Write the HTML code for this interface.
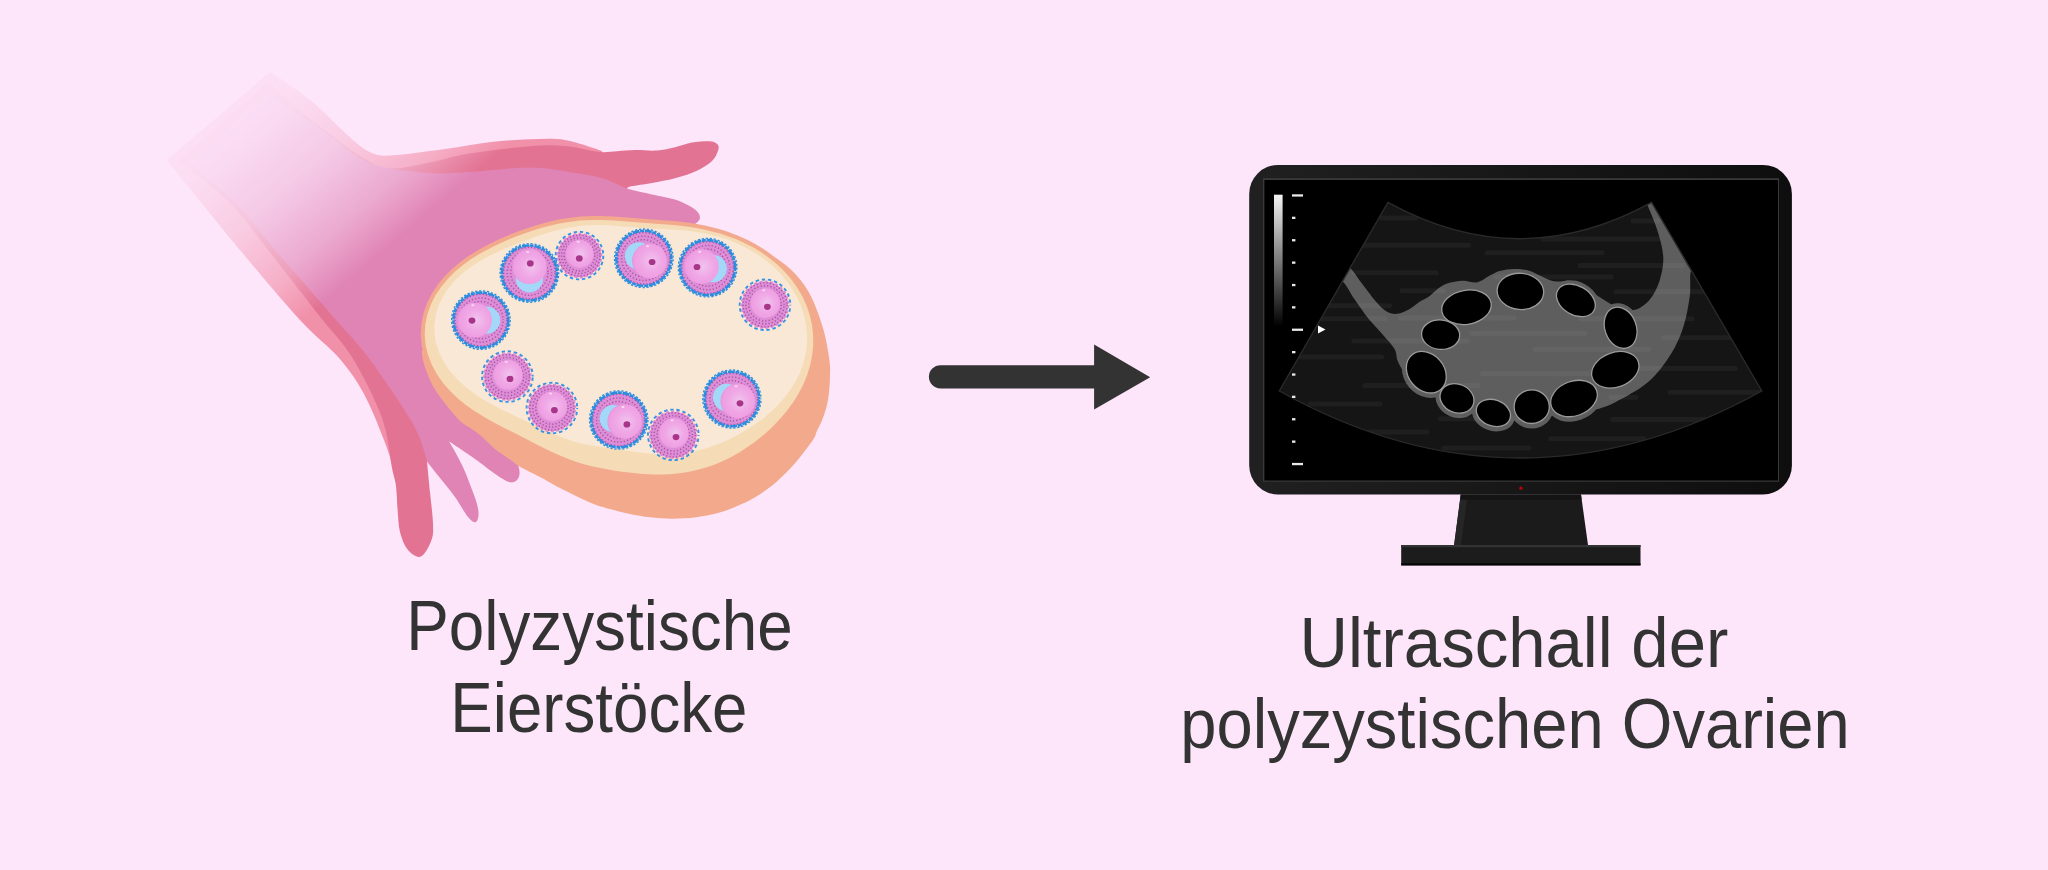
<!DOCTYPE html>
<html><head><meta charset="utf-8">
<style>
html,body{margin:0;padding:0;background:#FDE5FA;}
body{width:2048px;height:870px;overflow:hidden;}
svg{display:block;}
text{font-family:"Liberation Sans",sans-serif;fill:#333333;}
</style></head>
<body>
<svg width="2048" height="870" viewBox="0 0 2048 870">
<defs>
  <linearGradient id="fade" gradientUnits="userSpaceOnUse" x1="146" y1="171" x2="286" y2="334.4">
    <stop offset="0" stop-color="#fff" stop-opacity="0.05"/>
    <stop offset="0.186" stop-color="#fff" stop-opacity="0.1"/>
    <stop offset="0.488" stop-color="#fff" stop-opacity="0.28"/>
    <stop offset="0.79" stop-color="#fff" stop-opacity="0.62"/>
    <stop offset="1" stop-color="#fff" stop-opacity="1"/>
  </linearGradient>
  <mask id="handMask" maskUnits="userSpaceOnUse" x="0" y="0" width="1000" height="870">
    <rect x="0" y="0" width="1000" height="870" fill="url(#fade)"/>
  </mask>
  <radialGradient id="oo" cx="0.55" cy="0.5" r="0.55">
    <stop offset="0" stop-color="#F0C4EE"/>
    <stop offset="0.55" stop-color="#F0A8E6"/>
    <stop offset="0.9" stop-color="#EE9EE2"/>
    <stop offset="1" stop-color="#E593D8"/>
  </radialGradient>
  <pattern id="dots" width="3.5" height="3.5" patternUnits="userSpaceOnUse" patternTransform="rotate(20)">
    <rect width="3.5" height="3.5" fill="#DB8DD6"/>
    <circle cx="1.75" cy="1.75" r="1.05" fill="#B3569F"/>
  </pattern>
  <linearGradient id="bar" x1="0" y1="0" x2="0" y2="1">
    <stop offset="0" stop-color="#f4f4f4"/>
    <stop offset="1" stop-color="#000"/>
  </linearGradient>
</defs>

<rect width="2048" height="870" fill="#FDE5FA"/>
<g mask="url(#handMask)">
<path fill="#F190A9" d="M270.0,72.0 C270.0,72.0 296.2,88.7 310.0,100.0 C323.8,111.3 342.7,131.2 353.0,140.0 C363.3,148.8 365.5,150.4 372.0,153.0 C378.5,155.6 379.8,156.2 392.0,155.5 C404.2,154.8 428.5,151.2 445.0,149.0 C461.5,146.8 476.8,143.6 491.0,142.0 C505.2,140.4 517.7,139.6 530.0,139.3 C542.3,139.0 553.0,138.1 565.0,140.0 C577.0,141.9 602.0,151.0 602.0,151.0 C602.0,151.0 600.0,172.0 600.0,172.0 C600.0,172.0 560.0,300.0 560.0,300.0 C560.0,300.0 440.0,420.0 440.0,420.0 C440.0,420.0 394.0,470.0 394.0,470.0 C394.0,470.0 389.0,452.7 384.0,440.0 C379.0,427.3 371.5,407.7 364.0,394.0 C356.5,380.3 349.7,370.3 339.0,358.0 C328.3,345.7 316.5,338.0 300.0,320.0 C283.5,302.0 262.2,276.7 240.0,250.0 C217.8,223.3 167.0,160.0 167.0,160.0 C167.0,160.0 270.0,72.0 270.0,72.0 Z"/>
<path fill="#E37393" d="M391.0,168.6 C402.5,169.0 420.6,164.2 433.4,161.7 C446.2,159.2 451.9,156.3 468.0,153.7 C484.1,151.1 513.7,147.5 530.0,146.2 C546.3,144.9 554.7,145.1 566.0,146.0 C577.3,146.9 589.5,150.9 598.0,151.8 C606.5,152.7 610.8,151.5 617.0,151.2 C623.2,150.9 628.3,150.2 635.0,150.1 C641.7,150.0 650.3,151.0 657.0,150.5 C663.7,150.0 669.2,148.5 675.0,147.2 C680.8,145.9 686.3,143.6 692.0,142.6 C697.7,141.6 705.3,141.2 709.4,141.3 C713.5,141.5 715.0,142.3 716.5,143.5 C718.0,144.7 719.2,145.8 718.6,148.6 C718.0,151.3 716.4,156.4 713.0,160.0 C709.6,163.6 704.3,167.1 698.0,170.2 C691.7,173.2 682.7,176.2 675.0,178.3 C667.3,180.4 659.3,181.6 652.0,182.9 C644.7,184.2 635.5,185.4 631.3,186.3 C627.1,187.2 627.0,188.5 627.0,188.5 C627.0,188.5 560.0,300.0 560.0,300.0 C560.0,300.0 427.0,461.5 427.0,461.5 C427.0,461.5 429.0,481.6 430.0,492.0 C431.0,502.4 432.8,515.6 433.0,523.6 C433.2,531.6 433.5,534.5 431.5,540.0 C429.5,545.5 424.9,554.8 421.0,556.5 C417.1,558.2 411.5,554.1 408.0,550.0 C404.5,545.9 401.7,538.7 400.0,532.0 C398.3,525.3 398.3,517.7 397.6,510.0 C396.9,502.3 396.9,493.0 396.0,486.0 C395.1,479.0 394.3,479.3 392.0,468.0 C389.7,456.7 388.6,436.3 382.0,418.0 C375.4,399.7 362.5,374.3 352.6,358.0 C342.7,341.7 331.0,330.7 322.6,320.0 C314.2,309.3 311.1,305.3 302.0,293.6 C292.9,281.9 280.2,265.3 268.0,250.0 C255.8,234.7 243.8,216.8 229.0,202.0 C214.2,187.2 179.0,161.0 179.0,161.0 C179.0,161.0 268.0,82.0 268.0,82.0 C268.0,82.0 289.7,102.3 300.0,111.0 C310.3,119.7 319.2,126.0 330.0,134.0 C340.8,142.0 354.3,153.2 364.5,159.0 C374.7,164.8 379.5,168.2 391.0,168.6 Z"/>
<path fill="#E084B5" d="M391.0,168.6 C402.5,170.7 420.6,172.6 433.4,173.2 C446.2,173.8 451.9,172.9 468.0,172.0 C484.1,171.1 512.3,167.4 530.0,167.5 C547.7,167.6 561.8,170.8 574.0,172.7 C586.2,174.5 594.6,176.0 603.4,178.6 C612.2,181.2 618.9,185.9 627.0,188.5 C635.1,191.1 644.0,192.6 652.0,194.4 C660.0,196.2 668.3,197.3 675.0,199.5 C681.7,201.7 688.2,205.1 692.2,207.5 C696.2,209.9 697.8,212.0 699.0,214.0 C700.2,216.0 700.2,217.8 699.5,219.5 C698.8,221.2 694.5,224.5 694.5,224.5 C694.5,224.5 600.0,300.0 600.0,300.0 C600.0,300.0 512.0,455.0 512.0,455.0 C512.0,455.0 516.8,461.8 518.0,465.0 C519.2,468.2 519.8,471.4 519.5,474.0 C519.2,476.6 518.2,479.2 516.5,480.5 C514.8,481.8 512.4,483.0 509.0,482.0 C505.6,481.0 501.7,478.3 496.0,474.5 C490.3,470.7 482.8,464.5 475.0,459.0 C467.2,453.5 449.0,441.3 449.0,441.3 C449.0,441.3 457.8,456.1 462.0,465.0 C466.2,473.9 471.2,487.2 474.0,495.0 C476.8,502.8 478.2,507.5 478.5,512.0 C478.8,516.5 477.8,521.2 476.0,522.0 C474.2,522.8 471.5,521.2 468.0,517.0 C464.5,512.8 459.7,503.5 455.0,497.0 C450.3,490.5 444.7,483.9 440.0,478.0 C435.3,472.1 427.0,461.5 427.0,461.5 C427.0,461.5 422.7,441.2 413.0,424.0 C403.3,406.8 381.5,375.3 368.7,358.0 C355.9,340.7 345.9,331.5 336.0,320.0 C326.1,308.5 319.2,300.7 309.0,289.0 C298.8,277.3 287.2,264.3 275.0,250.0 C262.8,235.7 250.3,217.5 236.0,203.0 C221.7,188.5 189.0,163.0 189.0,163.0 C189.0,163.0 267.0,93.0 267.0,93.0 C267.0,93.0 289.5,107.8 300.0,115.0 C310.5,122.2 319.2,128.4 330.0,136.0 C340.8,143.6 354.3,155.2 364.5,160.6 C374.7,166.0 379.5,166.5 391.0,168.6 Z"/>
</g>
<path fill="#F2A98C" d="M421.8,350.2 C421.8,350.2 421.9,355.9 422.9,360.0 C423.9,364.1 425.8,370.0 427.9,375.0 C430.0,380.0 432.1,384.8 435.3,390.0 C438.5,395.2 442.9,400.9 447.0,406.0 C451.1,411.1 456.2,417.3 460.0,420.9 C463.8,424.5 466.7,425.4 470.0,427.8 C473.3,430.2 475.8,431.5 480.0,435.0 C484.2,438.5 490.0,444.9 495.0,449.0 C500.0,453.1 505.8,456.5 510.0,459.5 C514.2,462.5 515.0,463.9 520.0,466.8 C525.0,469.7 533.3,473.5 540.0,477.0 C546.7,480.5 551.7,483.8 560.0,488.0 C568.3,492.2 581.7,498.9 590.0,502.4 C598.3,505.9 603.3,507.1 610.0,509.0 C616.7,510.9 623.3,512.6 630.0,514.0 C636.7,515.4 642.9,516.5 650.0,517.3 C657.1,518.1 665.0,518.7 672.7,518.7 C680.4,518.7 688.4,518.3 696.2,517.3 C704.0,516.3 712.3,514.7 719.6,512.6 C726.9,510.5 733.5,507.7 740.0,504.8 C746.5,501.9 752.3,499.1 758.4,495.2 C764.5,491.3 770.7,486.8 776.8,481.4 C782.9,476.0 789.2,469.9 795.2,463.0 C801.2,456.1 809.3,445.2 812.9,440.0 C816.5,434.8 815.1,435.0 816.6,431.7 C818.1,428.4 820.4,424.3 822.1,420.0 C823.8,415.7 825.6,410.7 826.7,406.0 C827.9,401.3 828.5,396.7 829.0,392.0 C829.5,387.3 829.8,383.3 829.9,378.0 C830.0,372.7 830.6,368.6 829.4,360.0 C828.2,351.4 826.0,337.7 822.5,326.4 C819.0,315.1 814.1,301.6 808.7,292.0 C803.3,282.4 796.8,275.2 790.3,269.0 C783.8,262.8 776.7,258.5 770.0,254.5 C763.3,250.5 750.0,245.0 750.0,245.0 C750.0,245.0 700.0,350.0 700.0,350.0 C700.0,350.0 480.0,360.0 480.0,360.0 C480.0,360.0 421.8,350.2 421.8,350.2 Z"/>
<path fill="#F5DCB7" stroke="#F2A98C" stroke-width="8" stroke-linejoin="round" d="M425.6,345.0 L424.7,334.8 L425.3,324.5 L427.3,314.5 L430.7,304.8 L435.3,295.5 L441.1,286.9 L447.7,278.9 L455.1,271.6 L463.0,265.0 L471.2,259.1 L479.6,253.8 L488.1,249.2 L496.5,245.0 L504.7,241.2 L512.8,237.8 L520.7,234.8 L528.5,232.0 L536.1,229.5 L543.6,227.3 L550.9,225.4 L558.2,223.7 L565.4,222.4 L572.5,221.4 L579.6,220.6 L586.5,220.2 L593.4,220.0 L600.2,220.0 L606.9,220.2 L613.5,220.5 L620.0,220.9 L626.5,221.4 L632.9,221.9 L639.4,222.4 L646.0,222.9 L652.6,223.4 L659.4,223.9 L666.3,224.4 L673.4,225.0 L680.7,225.8 L688.3,226.8 L696.0,228.0 L703.9,229.5 L712.0,231.4 L720.3,233.6 L728.6,236.4 L737.0,239.6 L745.4,243.4 L753.8,247.8 L762.0,252.8 L769.9,258.5 L777.5,264.7 L784.7,271.7 L791.2,279.3 L797.1,287.4 L802.3,296.2 L806.5,305.4 L809.7,314.9 L812.0,324.8 L813.1,334.9 L813.2,345.0 L812.2,355.1 L810.2,365.0 L807.3,374.7 L803.5,384.0 L798.9,392.9 L793.7,401.4 L787.9,409.5 L781.7,417.0 L775.2,424.1 L768.4,430.7 L761.3,436.8 L754.1,442.4 L746.7,447.6 L739.2,452.4 L731.7,456.7 L724.0,460.5 L716.2,463.9 L708.4,466.7 L700.6,469.1 L692.8,471.1 L685.0,472.5 L677.2,473.6 L669.6,474.2 L662.1,474.5 L654.7,474.5 L647.5,474.2 L640.4,473.7 L633.5,473.1 L626.7,472.3 L620.0,471.4 L613.4,470.4 L606.9,469.3 L600.5,468.1 L594.1,466.8 L587.8,465.2 L581.5,463.4 L575.3,461.5 L569.1,459.3 L563.0,456.8 L557.0,454.2 L550.9,451.4 L544.8,448.4 L538.7,445.4 L532.5,442.2 L526.1,438.9 L519.4,435.6 L512.5,432.1 L505.2,428.4 L497.6,424.5 L489.8,420.2 L481.7,415.5 L473.4,410.3 L465.2,404.4 L457.3,397.9 L449.7,390.6 L442.8,382.7 L436.8,374.0 L431.8,364.8 L428.0,355.1 Z"/>
<path fill="#F5DCB7" d="M425.6,345.0 L424.7,334.8 L425.3,324.5 L427.3,314.5 L430.7,304.8 L435.3,295.5 L441.1,286.9 L447.7,278.9 L455.1,271.6 L463.0,265.0 L471.2,259.1 L479.6,253.8 L488.1,249.2 L496.5,245.0 L504.7,241.2 L512.8,237.8 L520.7,234.8 L528.5,232.0 L536.1,229.5 L543.6,227.3 L550.9,225.4 L558.2,223.7 L565.4,222.4 L572.5,221.4 L579.6,220.6 L586.5,220.2 L593.4,220.0 L600.2,220.0 L606.9,220.2 L613.5,220.5 L620.0,220.9 L626.5,221.4 L632.9,221.9 L639.4,222.4 L646.0,222.9 L652.6,223.4 L659.4,223.9 L666.3,224.4 L673.4,225.0 L680.7,225.8 L688.3,226.8 L696.0,228.0 L703.9,229.5 L712.0,231.4 L720.3,233.6 L728.6,236.4 L737.0,239.6 L745.4,243.4 L753.8,247.8 L762.0,252.8 L769.9,258.5 L777.5,264.7 L784.7,271.7 L791.2,279.3 L797.1,287.4 L802.3,296.2 L806.5,305.4 L809.7,314.9 L812.0,324.8 L813.1,334.9 L813.2,345.0 L812.2,355.1 L810.2,365.0 L807.3,374.7 L803.5,384.0 L798.9,392.9 L793.7,401.4 L787.9,409.5 L781.7,417.0 L775.2,424.1 L768.4,430.7 L761.3,436.8 L754.1,442.4 L746.7,447.6 L739.2,452.4 L731.7,456.7 L724.0,460.5 L716.2,463.9 L708.4,466.7 L700.6,469.1 L692.8,471.1 L685.0,472.5 L677.2,473.6 L669.6,474.2 L662.1,474.5 L654.7,474.5 L647.5,474.2 L640.4,473.7 L633.5,473.1 L626.7,472.3 L620.0,471.4 L613.4,470.4 L606.9,469.3 L600.5,468.1 L594.1,466.8 L587.8,465.2 L581.5,463.4 L575.3,461.5 L569.1,459.3 L563.0,456.8 L557.0,454.2 L550.9,451.4 L544.8,448.4 L538.7,445.4 L532.5,442.2 L526.1,438.9 L519.4,435.6 L512.5,432.1 L505.2,428.4 L497.6,424.5 L489.8,420.2 L481.7,415.5 L473.4,410.3 L465.2,404.4 L457.3,397.9 L449.7,390.6 L442.8,382.7 L436.8,374.0 L431.8,364.8 L428.0,355.1 Z"/>
<path fill="#F8E8D5" d="M436.6,345.0 L434.6,335.3 L434.3,325.5 L435.5,315.8 L438.2,306.4 L442.3,297.4 L447.7,289.0 L454.1,281.3 L461.3,274.3 L469.1,268.1 L477.3,262.6 L485.7,257.8 L494.0,253.5 L502.3,249.7 L510.4,246.3 L518.2,243.2 L525.8,240.4 L533.1,237.7 L540.3,235.3 L547.3,233.1 L554.2,231.1 L561.1,229.3 L567.8,227.8 L574.6,226.7 L581.3,225.8 L587.9,225.2 L594.5,225.0 L601.0,225.0 L607.4,225.3 L613.7,225.7 L620.0,226.2 L626.2,226.7 L632.4,227.2 L638.6,227.7 L644.8,228.1 L651.2,228.5 L657.8,228.8 L664.5,229.1 L671.5,229.4 L678.6,229.9 L686.1,230.6 L693.7,231.5 L701.6,232.7 L709.6,234.4 L717.7,236.5 L725.9,239.1 L734.2,242.2 L742.4,245.9 L750.5,250.2 L758.5,255.1 L766.1,260.6 L773.5,266.8 L780.3,273.6 L786.7,281.0 L792.3,289.0 L797.2,297.5 L801.2,306.5 L804.2,315.8 L806.2,325.4 L807.1,335.2 L806.9,345.0 L805.5,354.7 L803.0,364.2 L799.6,373.4 L795.2,382.2 L789.9,390.5 L784.0,398.3 L777.6,405.5 L770.7,412.1 L763.6,418.2 L756.2,423.6 L748.7,428.6 L741.2,433.1 L733.7,437.1 L726.3,440.7 L718.8,443.8 L711.4,446.6 L704.1,448.9 L696.9,450.8 L689.7,452.3 L682.6,453.4 L675.6,454.1 L668.7,454.5 L662.0,454.4 L655.5,454.1 L649.1,453.6 L642.9,452.9 L637.0,452.1 L631.2,451.3 L625.5,450.4 L620.0,449.6 L614.6,448.9 L609.2,448.1 L603.8,447.4 L598.4,446.6 L593.0,445.8 L587.6,444.8 L582.1,443.7 L576.7,442.3 L571.2,440.7 L565.8,438.8 L560.4,436.8 L555.0,434.5 L549.5,432.0 L544.0,429.4 L538.3,426.7 L532.4,423.9 L526.1,421.0 L519.6,418.0 L512.6,414.7 L505.2,411.3 L497.5,407.4 L489.4,403.1 L481.2,398.3 L473.0,392.8 L465.0,386.5 L457.5,379.5 L450.6,371.8 L444.7,363.4 L440.0,354.4 Z"/>
<g>
<circle cx="480.9" cy="320.1" r="27.0" fill="#DC8FD8"/>
<circle cx="480.9" cy="320.1" r="18.58" fill="none" stroke="#B4549F" stroke-width="1.5" stroke-dasharray="1.3 2.04" stroke-dashoffset="0.00"/>
<circle cx="480.9" cy="320.1" r="22.19" fill="none" stroke="#B4549F" stroke-width="1.5" stroke-dasharray="1.3 2.02" stroke-dashoffset="1.66"/>
<circle cx="480.9" cy="320.1" r="25.80" fill="none" stroke="#B4549F" stroke-width="1.5" stroke-dasharray="1.3 2.01" stroke-dashoffset="0.00"/>
<circle cx="480.9" cy="320.1" r="27.5" fill="none" stroke="#2B8CE0" stroke-width="2.6" stroke-dasharray="7 0.6 4 0.8" stroke-dashoffset="0"/>
<circle cx="480.9" cy="320.1" r="29.3" fill="none" stroke="#2B8CE0" stroke-width="1.3" stroke-dasharray="2.2 1.8" stroke-dashoffset="0"/>
<circle cx="486.6" cy="320.1" r="13.7" fill="#A3D8F9"/>
<circle cx="474.6" cy="320.1" r="17.4" fill="url(#oo)"/>
<ellipse cx="472.9" cy="305.3" rx="1.6" ry="1.0" fill="#fff" opacity="0.6"/>
<ellipse cx="472.0" cy="320.6" rx="3.4" ry="3.1" fill="#A8358A"/>
</g>
<g>
<circle cx="529.4" cy="273.0" r="27.0" fill="#DC8FD8"/>
<circle cx="529.4" cy="273.0" r="18.58" fill="none" stroke="#B4549F" stroke-width="1.5" stroke-dasharray="1.3 2.04" stroke-dashoffset="0.00"/>
<circle cx="529.4" cy="273.0" r="22.19" fill="none" stroke="#B4549F" stroke-width="1.5" stroke-dasharray="1.3 2.02" stroke-dashoffset="1.66"/>
<circle cx="529.4" cy="273.0" r="25.80" fill="none" stroke="#B4549F" stroke-width="1.5" stroke-dasharray="1.3 2.01" stroke-dashoffset="0.00"/>
<circle cx="529.4" cy="273.0" r="27.5" fill="none" stroke="#2B8CE0" stroke-width="2.6" stroke-dasharray="7 0.6 4 0.8" stroke-dashoffset="2"/>
<circle cx="529.4" cy="273.0" r="29.3" fill="none" stroke="#2B8CE0" stroke-width="1.3" stroke-dasharray="2.2 1.8" stroke-dashoffset="1"/>
<circle cx="529.4" cy="278.7" r="13.7" fill="#A3D8F9"/>
<circle cx="529.4" cy="266.7" r="17.4" fill="url(#oo)"/>
<ellipse cx="527.7" cy="252.0" rx="1.6" ry="1.0" fill="#fff" opacity="0.6"/>
<ellipse cx="530.3" cy="263.4" rx="3.4" ry="3.1" fill="#A8358A"/>
</g>
<g>
<circle cx="579.5" cy="255.6" r="23.8" fill="none" stroke="#3894E3" stroke-width="1.9" stroke-dasharray="3.4 2.8" stroke-dashoffset="6"/>
<circle cx="579.5" cy="255.6" r="21.7" fill="#DC8FD8" stroke="#DC8FD8" stroke-width="2.2" stroke-dasharray="3 2.4" stroke-dashoffset="2"/>
<circle cx="579.5" cy="255.6" r="15.30" fill="none" stroke="#B4549F" stroke-width="1.5" stroke-dasharray="1.3 2.01" stroke-dashoffset="0.00"/>
<circle cx="579.5" cy="255.6" r="17.90" fill="none" stroke="#B4549F" stroke-width="1.5" stroke-dasharray="1.3 2.01" stroke-dashoffset="1.65"/>
<circle cx="579.5" cy="255.6" r="20.50" fill="none" stroke="#B4549F" stroke-width="1.5" stroke-dasharray="1.3 2.00" stroke-dashoffset="0.00"/>
<circle cx="579.5" cy="253.8" r="14.1" fill="url(#oo)"/>
<ellipse cx="578.1" cy="241.8" rx="1.6" ry="1.0" fill="#fff" opacity="0.6"/>
<ellipse cx="579.3" cy="258.4" rx="3.4" ry="3.1" fill="#A8358A"/>
</g>
<g>
<circle cx="643.8" cy="258.3" r="27.0" fill="#DC8FD8"/>
<circle cx="643.8" cy="258.3" r="18.58" fill="none" stroke="#B4549F" stroke-width="1.5" stroke-dasharray="1.3 2.04" stroke-dashoffset="0.00"/>
<circle cx="643.8" cy="258.3" r="22.19" fill="none" stroke="#B4549F" stroke-width="1.5" stroke-dasharray="1.3 2.02" stroke-dashoffset="1.66"/>
<circle cx="643.8" cy="258.3" r="25.80" fill="none" stroke="#B4549F" stroke-width="1.5" stroke-dasharray="1.3 2.01" stroke-dashoffset="0.00"/>
<circle cx="643.8" cy="258.3" r="27.5" fill="none" stroke="#2B8CE0" stroke-width="2.6" stroke-dasharray="7 0.6 4 0.8" stroke-dashoffset="6"/>
<circle cx="643.8" cy="258.3" r="29.3" fill="none" stroke="#2B8CE0" stroke-width="1.3" stroke-dasharray="2.2 1.8" stroke-dashoffset="3"/>
<circle cx="638.6" cy="255.9" r="13.7" fill="#A3D8F9"/>
<circle cx="649.5" cy="260.9" r="17.4" fill="url(#oo)"/>
<ellipse cx="647.7" cy="246.2" rx="1.6" ry="1.0" fill="#fff" opacity="0.6"/>
<ellipse cx="652.1" cy="262.0" rx="3.4" ry="3.1" fill="#A8358A"/>
</g>
<g>
<circle cx="707.6" cy="267.6" r="27.0" fill="#DC8FD8"/>
<circle cx="707.6" cy="267.6" r="18.58" fill="none" stroke="#B4549F" stroke-width="1.5" stroke-dasharray="1.3 2.04" stroke-dashoffset="0.00"/>
<circle cx="707.6" cy="267.6" r="22.19" fill="none" stroke="#B4549F" stroke-width="1.5" stroke-dasharray="1.3 2.02" stroke-dashoffset="1.66"/>
<circle cx="707.6" cy="267.6" r="25.80" fill="none" stroke="#B4549F" stroke-width="1.5" stroke-dasharray="1.3 2.01" stroke-dashoffset="0.00"/>
<circle cx="707.6" cy="267.6" r="27.5" fill="none" stroke="#2B8CE0" stroke-width="2.6" stroke-dasharray="7 0.6 4 0.8" stroke-dashoffset="8"/>
<circle cx="707.6" cy="267.6" r="29.3" fill="none" stroke="#2B8CE0" stroke-width="1.3" stroke-dasharray="2.2 1.8" stroke-dashoffset="4"/>
<circle cx="713.2" cy="268.6" r="13.7" fill="#A3D8F9"/>
<circle cx="701.4" cy="266.5" r="17.4" fill="url(#oo)"/>
<ellipse cx="699.7" cy="251.7" rx="1.6" ry="1.0" fill="#fff" opacity="0.6"/>
<ellipse cx="697.0" cy="267.0" rx="3.4" ry="3.1" fill="#A8358A"/>
</g>
<g>
<circle cx="765.0" cy="304.8" r="25.3" fill="none" stroke="#3894E3" stroke-width="1.9" stroke-dasharray="3.4 2.8" stroke-dashoffset="15"/>
<circle cx="765.0" cy="304.8" r="23.2" fill="#DC8FD8" stroke="#DC8FD8" stroke-width="2.2" stroke-dasharray="3 2.4" stroke-dashoffset="5"/>
<circle cx="765.0" cy="304.8" r="16.20" fill="none" stroke="#B4549F" stroke-width="1.5" stroke-dasharray="1.3 2.09" stroke-dashoffset="0.00"/>
<circle cx="765.0" cy="304.8" r="19.10" fill="none" stroke="#B4549F" stroke-width="1.5" stroke-dasharray="1.3 2.03" stroke-dashoffset="1.67"/>
<circle cx="765.0" cy="304.8" r="22.00" fill="none" stroke="#B4549F" stroke-width="1.5" stroke-dasharray="1.3 2.07" stroke-dashoffset="0.00"/>
<circle cx="765.2" cy="303.0" r="15.0" fill="url(#oo)"/>
<ellipse cx="763.7" cy="290.2" rx="1.6" ry="1.0" fill="#fff" opacity="0.6"/>
<ellipse cx="767.4" cy="306.8" rx="3.4" ry="3.1" fill="#A8358A"/>
</g>
<g>
<circle cx="731.9" cy="399.0" r="26.8" fill="#DC8FD8"/>
<circle cx="731.9" cy="399.0" r="18.46" fill="none" stroke="#B4549F" stroke-width="1.5" stroke-dasharray="1.3 2.01" stroke-dashoffset="0.00"/>
<circle cx="731.9" cy="399.0" r="22.03" fill="none" stroke="#B4549F" stroke-width="1.5" stroke-dasharray="1.3 2.08" stroke-dashoffset="1.69"/>
<circle cx="731.9" cy="399.0" r="25.60" fill="none" stroke="#B4549F" stroke-width="1.5" stroke-dasharray="1.3 2.05" stroke-dashoffset="0.00"/>
<circle cx="731.9" cy="399.0" r="27.3" fill="none" stroke="#2B8CE0" stroke-width="2.6" stroke-dasharray="7 0.6 4 0.8" stroke-dashoffset="12"/>
<circle cx="731.9" cy="399.0" r="29.1" fill="none" stroke="#2B8CE0" stroke-width="1.3" stroke-dasharray="2.2 1.8" stroke-dashoffset="6"/>
<circle cx="726.5" cy="397.3" r="13.6" fill="#A3D8F9"/>
<circle cx="737.8" cy="400.9" r="17.3" fill="url(#oo)"/>
<ellipse cx="736.1" cy="386.3" rx="1.6" ry="1.0" fill="#fff" opacity="0.6"/>
<ellipse cx="740.0" cy="403.3" rx="3.4" ry="3.1" fill="#A8358A"/>
</g>
<g>
<circle cx="673.3" cy="434.9" r="25.3" fill="none" stroke="#3894E3" stroke-width="1.9" stroke-dasharray="3.4 2.8" stroke-dashoffset="21"/>
<circle cx="673.3" cy="434.9" r="23.2" fill="#DC8FD8" stroke="#DC8FD8" stroke-width="2.2" stroke-dasharray="3 2.4" stroke-dashoffset="7"/>
<circle cx="673.3" cy="434.9" r="16.20" fill="none" stroke="#B4549F" stroke-width="1.5" stroke-dasharray="1.3 2.09" stroke-dashoffset="0.00"/>
<circle cx="673.3" cy="434.9" r="19.10" fill="none" stroke="#B4549F" stroke-width="1.5" stroke-dasharray="1.3 2.03" stroke-dashoffset="1.67"/>
<circle cx="673.3" cy="434.9" r="22.00" fill="none" stroke="#B4549F" stroke-width="1.5" stroke-dasharray="1.3 2.07" stroke-dashoffset="0.00"/>
<circle cx="673.6" cy="433.1" r="15.0" fill="url(#oo)"/>
<ellipse cx="672.1" cy="420.3" rx="1.6" ry="1.0" fill="#fff" opacity="0.6"/>
<ellipse cx="676.0" cy="437.1" rx="3.4" ry="3.1" fill="#A8358A"/>
</g>
<g>
<circle cx="618.7" cy="420.0" r="26.9" fill="#DC8FD8"/>
<circle cx="618.7" cy="420.0" r="18.52" fill="none" stroke="#B4549F" stroke-width="1.5" stroke-dasharray="1.3 2.03" stroke-dashoffset="0.00"/>
<circle cx="618.7" cy="420.0" r="22.11" fill="none" stroke="#B4549F" stroke-width="1.5" stroke-dasharray="1.3 2.01" stroke-dashoffset="1.65"/>
<circle cx="618.7" cy="420.0" r="25.70" fill="none" stroke="#B4549F" stroke-width="1.5" stroke-dasharray="1.3 2.06" stroke-dashoffset="0.00"/>
<circle cx="618.7" cy="420.0" r="27.4" fill="none" stroke="#2B8CE0" stroke-width="2.6" stroke-dasharray="7 0.6 4 0.8" stroke-dashoffset="16"/>
<circle cx="618.7" cy="420.0" r="29.2" fill="none" stroke="#2B8CE0" stroke-width="1.3" stroke-dasharray="2.2 1.8" stroke-dashoffset="8"/>
<circle cx="613.2" cy="418.5" r="13.6" fill="#A3D8F9"/>
<circle cx="624.7" cy="421.6" r="17.3" fill="url(#oo)"/>
<ellipse cx="623.0" cy="406.9" rx="1.6" ry="1.0" fill="#fff" opacity="0.6"/>
<ellipse cx="626.9" cy="424.4" rx="3.4" ry="3.1" fill="#A8358A"/>
</g>
<g>
<circle cx="551.9" cy="408.0" r="25.3" fill="none" stroke="#3894E3" stroke-width="1.9" stroke-dasharray="3.4 2.8" stroke-dashoffset="27"/>
<circle cx="551.9" cy="408.0" r="23.2" fill="#DC8FD8" stroke="#DC8FD8" stroke-width="2.2" stroke-dasharray="3 2.4" stroke-dashoffset="9"/>
<circle cx="551.9" cy="408.0" r="16.20" fill="none" stroke="#B4549F" stroke-width="1.5" stroke-dasharray="1.3 2.09" stroke-dashoffset="0.00"/>
<circle cx="551.9" cy="408.0" r="19.10" fill="none" stroke="#B4549F" stroke-width="1.5" stroke-dasharray="1.3 2.03" stroke-dashoffset="1.67"/>
<circle cx="551.9" cy="408.0" r="22.00" fill="none" stroke="#B4549F" stroke-width="1.5" stroke-dasharray="1.3 2.07" stroke-dashoffset="0.00"/>
<circle cx="552.1" cy="406.2" r="15.0" fill="url(#oo)"/>
<ellipse cx="550.6" cy="393.4" rx="1.6" ry="1.0" fill="#fff" opacity="0.6"/>
<ellipse cx="554.4" cy="410.2" rx="3.4" ry="3.1" fill="#A8358A"/>
</g>
<g>
<circle cx="507.4" cy="376.6" r="25.3" fill="none" stroke="#3894E3" stroke-width="1.9" stroke-dasharray="3.4 2.8" stroke-dashoffset="30"/>
<circle cx="507.4" cy="376.6" r="23.2" fill="#DC8FD8" stroke="#DC8FD8" stroke-width="2.2" stroke-dasharray="3 2.4" stroke-dashoffset="10"/>
<circle cx="507.4" cy="376.6" r="16.20" fill="none" stroke="#B4549F" stroke-width="1.5" stroke-dasharray="1.3 2.09" stroke-dashoffset="0.00"/>
<circle cx="507.4" cy="376.6" r="19.10" fill="none" stroke="#B4549F" stroke-width="1.5" stroke-dasharray="1.3 2.03" stroke-dashoffset="1.67"/>
<circle cx="507.4" cy="376.6" r="22.00" fill="none" stroke="#B4549F" stroke-width="1.5" stroke-dasharray="1.3 2.07" stroke-dashoffset="0.00"/>
<circle cx="507.7" cy="374.8" r="15.0" fill="url(#oo)"/>
<ellipse cx="506.2" cy="362.1" rx="1.6" ry="1.0" fill="#fff" opacity="0.6"/>
<ellipse cx="510.0" cy="378.9" rx="3.4" ry="3.1" fill="#A8358A"/>
</g>

<path d="M940.5,365.2 L1094.1,365.2 L1094.1,344.6 L1150.2,377.2 L1094.1,409.6 L1094.1,388.4 L940.5,388.4 A11.6,11.6 0 0 1 940.5,365.2 Z" fill="#333333"/>
<linearGradient id="bez" x1="0" y1="0" x2="1" y2="0"><stop offset="0" stop-color="#202020"/><stop offset="0.5" stop-color="#171717"/><stop offset="1" stop-color="#0E0E0E"/></linearGradient>
<rect x="1249.2" y="164.9" width="542.7" height="329.6" rx="29" fill="url(#bez)"/>
<rect x="1263" y="178.2" width="516" height="303.5" fill="#393939"/>
<rect x="1264.4" y="180" width="513.6" height="300.5" fill="#000"/>
<path d="M1460.7,494.6 L1581,494.6 L1588,545 L1454.1,545 Z" fill="#1B1B1B"/>
<path d="M1460.7,494.6 L1581,494.6 L1581.6,499.7 L1460.1,499.7 Z" fill="#141414"/>
<path d="M1460.1,499.7 L1467,499.7 L1461,545 L1454.1,545 Z" fill="#262626"/>
<rect x="1401.2" y="545" width="239.3" height="20.4" fill="#1C1C1C"/>
<rect x="1401.2" y="545" width="239.3" height="2.2" fill="#333"/>
<rect x="1401.2" y="563.3" width="239.3" height="2.1" fill="#050505"/>
<circle cx="1520.9" cy="488.2" r="1.6" fill="#C40000"/>
<clipPath id="fanClip"><path d="M1387.9,202.4 Q1519.8,275 1651.6,202.4 L1761.8,391 Q1519.8,525 1279.3,391 Z"/></clipPath>
<path d="M1387.9,202.4 Q1519.8,275 1651.6,202.4 L1761.8,391 Q1519.8,525 1279.3,391 Z" fill="#151515"/>
<g clip-path="url(#fanClip)">
<path d="M1340.0,266.0 C1340.0,266.0 1346.4,265.2 1350.0,268.0 C1353.6,270.8 1357.2,277.4 1361.4,282.8 C1365.6,288.2 1371.1,296.0 1375.2,300.7 C1379.3,305.4 1382.5,309.0 1386.2,311.2 C1389.9,313.4 1393.3,314.2 1397.2,313.8 C1401.1,313.4 1406.0,311.0 1409.7,309.0 C1413.4,307.0 1416.1,304.1 1419.3,302.0 C1422.5,299.9 1426.0,298.6 1429.0,296.5 C1432.0,294.4 1434.0,291.7 1437.0,289.5 C1440.0,287.3 1442.7,285.0 1447.0,283.5 C1451.3,282.0 1457.8,280.9 1462.8,280.7 C1467.8,280.5 1472.6,283.2 1477.2,282.3 C1481.8,281.4 1486.4,277.2 1490.3,275.3 C1494.2,273.4 1496.2,271.7 1500.7,270.7 C1505.2,269.7 1511.0,268.4 1517.2,269.1 C1523.4,269.8 1532.0,272.8 1537.9,274.8 C1543.8,276.8 1547.4,279.9 1552.4,281.0 C1557.4,282.1 1562.7,280.5 1567.9,281.5 C1573.1,282.5 1579.1,285.2 1583.4,287.2 C1587.7,289.2 1588.6,290.3 1593.8,293.4 C1599.0,296.5 1608.5,303.0 1614.5,305.9 C1620.5,308.8 1630.0,311.0 1630.0,311.0 C1630.0,311.0 1600.0,380.0 1600.0,380.0 C1600.0,380.0 1500.0,400.0 1500.0,400.0 C1500.0,400.0 1425.0,392.0 1425.0,392.0 C1425.0,392.0 1416.6,384.4 1413.0,381.0 C1409.4,377.6 1406.1,374.9 1403.5,371.5 C1400.9,368.1 1399.0,364.2 1397.5,360.5 C1396.0,356.8 1397.1,353.4 1394.5,349.0 C1391.9,344.6 1386.4,338.9 1382.0,333.8 C1377.6,328.7 1372.9,324.4 1368.3,318.6 C1363.7,312.9 1358.8,305.5 1354.5,299.3 C1350.2,293.1 1346.9,285.3 1342.8,281.4 C1338.7,277.5 1330.0,276.0 1330.0,276.0 C1330.0,276.0 1340.0,266.0 1340.0,266.0 Z" fill="#5E5E5E"/>
<path d="M1650.0,195.0 C1650.0,195.0 1700.0,265.0 1700.0,265.0 C1700.0,265.0 1692.7,265.6 1691.0,270.8 C1689.3,276.0 1691.0,286.7 1689.8,296.0 C1688.5,305.3 1686.7,316.7 1683.5,326.4 C1680.3,336.1 1676.7,344.9 1670.8,354.2 C1664.9,363.5 1657.3,374.0 1648.1,382.0 C1638.8,390.0 1624.1,397.6 1615.3,402.2 C1606.5,406.8 1595.0,409.8 1595.0,409.8 C1595.0,409.8 1600.0,330.0 1600.0,330.0 C1600.0,330.0 1610.2,309.5 1615.3,306.2 C1620.4,302.9 1626.2,309.8 1630.4,310.0 C1634.6,310.2 1637.1,309.3 1640.5,307.4 C1643.9,305.5 1647.4,303.0 1650.6,298.6 C1653.8,294.2 1657.4,287.6 1659.5,280.9 C1661.6,274.2 1663.5,266.2 1663.3,258.2 C1663.1,250.2 1660.7,241.5 1658.2,232.9 C1655.7,224.3 1650.5,212.2 1648.1,206.4 C1645.7,200.6 1644.0,198.0 1644.0,198.0 C1644.0,198.0 1650.0,195.0 1650.0,195.0 Z" fill="#5E5E5E"/>
<path d="M1466.5,307.3 C1479.8,300.1 1502.2,292.5 1520.4,291.4 C1538.6,290.2 1559.2,294.3 1575.9,300.4 C1592.6,306.5 1614.0,316.2 1620.6,327.8 C1627.2,339.4 1623.1,358.0 1615.3,369.8 C1607.5,381.6 1587.9,392.4 1574.0,398.5 C1560.1,404.6 1545.1,404.3 1531.7,406.7 C1518.3,409.1 1505.9,414.3 1493.4,412.9 C1481.0,411.5 1468.2,405.2 1457.0,398.4 C1445.8,391.6 1429.0,382.8 1426.3,372.2 C1423.6,361.6 1433.9,345.5 1440.6,334.7 C1447.3,323.9 1453.2,314.5 1466.5,307.3 Z" fill="#5E5E5E"/>
<ellipse cx="1466.5" cy="307.8" rx="29.5" ry="21.5" transform="rotate(-10 1466.5 307.8)" fill="#5E5E5E"/>
<ellipse cx="1520.4" cy="291.9" rx="27.8" ry="22.6" transform="rotate(5 1520.4 291.9)" fill="#5E5E5E"/>
<ellipse cx="1575.9" cy="300.9" rx="25.3" ry="19.0" transform="rotate(30 1575.9 300.9)" fill="#5E5E5E"/>
<ellipse cx="1620.6" cy="328.3" rx="20.2" ry="25.7" transform="rotate(-20 1620.6 328.3)" fill="#5E5E5E"/>
<ellipse cx="1615.3" cy="370.3" rx="28.9" ry="21.8" transform="rotate(-20 1615.3 370.3)" fill="#5E5E5E"/>
<ellipse cx="1574.0" cy="399.0" rx="28.5" ry="21.8" transform="rotate(-20 1574.0 399.0)" fill="#5E5E5E"/>
<ellipse cx="1531.7" cy="407.2" rx="22.1" ry="21.3" transform="rotate(0 1531.7 407.2)" fill="#5E5E5E"/>
<ellipse cx="1493.4" cy="413.4" rx="22.1" ry="17.5" transform="rotate(20 1493.4 413.4)" fill="#5E5E5E"/>
<ellipse cx="1457.0" cy="398.9" rx="21.9" ry="18.7" transform="rotate(22 1457.0 398.9)" fill="#5E5E5E"/>
<ellipse cx="1426.3" cy="372.7" rx="27.0" ry="22.5" transform="rotate(50 1426.3 372.7)" fill="#5E5E5E"/>
<ellipse cx="1440.6" cy="335.2" rx="23.6" ry="19.2" transform="rotate(5 1440.6 335.2)" fill="#5E5E5E"/>
<line x1="1363.0" y1="245.2" x2="1468.6" y2="245.2" stroke="#fff" stroke-opacity="0.045" stroke-width="5" stroke-linecap="round"/>
<line x1="1487.0" y1="252.7" x2="1602.0" y2="252.7" stroke="#fff" stroke-opacity="0.045" stroke-width="5" stroke-linecap="round"/>
<line x1="1543.0" y1="239.0" x2="1658.0" y2="239.0" stroke="#fff" stroke-opacity="0.045" stroke-width="5" stroke-linecap="round"/>
<line x1="1633.0" y1="221.0" x2="1658.0" y2="221.0" stroke="#fff" stroke-opacity="0.045" stroke-width="5" stroke-linecap="round"/>
<line x1="1381.7" y1="218.0" x2="1415.8" y2="218.0" stroke="#fff" stroke-opacity="0.045" stroke-width="5" stroke-linecap="round"/>
<line x1="1580.0" y1="265.4" x2="1682.6" y2="265.4" stroke="#fff" stroke-opacity="0.045" stroke-width="5" stroke-linecap="round"/>
<line x1="1353.8" y1="272.8" x2="1436.0" y2="272.8" stroke="#fff" stroke-opacity="0.045" stroke-width="5" stroke-linecap="round"/>
<line x1="1496.5" y1="276.9" x2="1611.0" y2="276.9" stroke="#fff" stroke-opacity="0.045" stroke-width="5" stroke-linecap="round"/>
<line x1="1401.9" y1="290.8" x2="1443.7" y2="290.8" stroke="#fff" stroke-opacity="0.045" stroke-width="5" stroke-linecap="round"/>
<line x1="1616.0" y1="291.8" x2="1702.8" y2="291.8" stroke="#fff" stroke-opacity="0.045" stroke-width="5" stroke-linecap="round"/>
<line x1="1330.5" y1="305.7" x2="1389.5" y2="305.7" stroke="#fff" stroke-opacity="0.045" stroke-width="5" stroke-linecap="round"/>
<line x1="1322.7" y1="318.8" x2="1384.8" y2="318.8" stroke="#fff" stroke-opacity="0.045" stroke-width="5" stroke-linecap="round"/>
<line x1="1400.0" y1="318.0" x2="1513.6" y2="318.0" stroke="#fff" stroke-opacity="0.045" stroke-width="5" stroke-linecap="round"/>
<line x1="1580.0" y1="318.8" x2="1692.0" y2="318.8" stroke="#fff" stroke-opacity="0.045" stroke-width="5" stroke-linecap="round"/>
<line x1="1471.7" y1="333.3" x2="1585.0" y2="333.3" stroke="#fff" stroke-opacity="0.045" stroke-width="5" stroke-linecap="round"/>
<line x1="1353.8" y1="341.1" x2="1467.0" y2="341.1" stroke="#fff" stroke-opacity="0.045" stroke-width="5" stroke-linecap="round"/>
<line x1="1664.0" y1="337.7" x2="1729.0" y2="337.7" stroke="#fff" stroke-opacity="0.045" stroke-width="5" stroke-linecap="round"/>
<line x1="1535.0" y1="349.2" x2="1648.5" y2="349.2" stroke="#fff" stroke-opacity="0.045" stroke-width="5" stroke-linecap="round"/>
<line x1="1301.0" y1="357.0" x2="1381.7" y2="357.0" stroke="#fff" stroke-opacity="0.045" stroke-width="5" stroke-linecap="round"/>
<line x1="1640.8" y1="368.4" x2="1735.4" y2="368.4" stroke="#fff" stroke-opacity="0.045" stroke-width="5" stroke-linecap="round"/>
<line x1="1482.5" y1="373.7" x2="1595.8" y2="373.7" stroke="#fff" stroke-opacity="0.045" stroke-width="5" stroke-linecap="round"/>
<line x1="1364.6" y1="385.5" x2="1477.9" y2="385.5" stroke="#fff" stroke-opacity="0.045" stroke-width="5" stroke-linecap="round"/>
<line x1="1670.0" y1="392.3" x2="1760.0" y2="392.3" stroke="#fff" stroke-opacity="0.045" stroke-width="5" stroke-linecap="round"/>
<line x1="1310.3" y1="404.0" x2="1380.0" y2="404.0" stroke="#fff" stroke-opacity="0.045" stroke-width="5" stroke-linecap="round"/>
<line x1="1611.0" y1="397.3" x2="1636.0" y2="397.3" stroke="#fff" stroke-opacity="0.045" stroke-width="5" stroke-linecap="round"/>
<line x1="1440.6" y1="418.7" x2="1518.0" y2="418.7" stroke="#fff" stroke-opacity="0.045" stroke-width="5" stroke-linecap="round"/>
<line x1="1612.8" y1="419.6" x2="1712.0" y2="419.6" stroke="#fff" stroke-opacity="0.045" stroke-width="5" stroke-linecap="round"/>
<line x1="1369.0" y1="432.0" x2="1426.7" y2="432.0" stroke="#fff" stroke-opacity="0.045" stroke-width="5" stroke-linecap="round"/>
<line x1="1550.8" y1="438.8" x2="1643.9" y2="438.8" stroke="#fff" stroke-opacity="0.045" stroke-width="5" stroke-linecap="round"/>
<line x1="1443.7" y1="448.0" x2="1529.0" y2="448.0" stroke="#fff" stroke-opacity="0.045" stroke-width="5" stroke-linecap="round"/>
<ellipse cx="1466.5" cy="307.3" rx="25.0" ry="17.0" transform="rotate(-10 1466.5 307.3)" fill="#000" stroke="#9A9A9A" stroke-width="1.3"/>
<ellipse cx="1520.4" cy="291.4" rx="23.3" ry="18.1" transform="rotate(5 1520.4 291.4)" fill="#000" stroke="#9A9A9A" stroke-width="1.3"/>
<ellipse cx="1575.9" cy="300.4" rx="20.8" ry="14.5" transform="rotate(30 1575.9 300.4)" fill="#000" stroke="#9A9A9A" stroke-width="1.3"/>
<ellipse cx="1620.6" cy="327.8" rx="15.7" ry="21.2" transform="rotate(-20 1620.6 327.8)" fill="#000" stroke="#9A9A9A" stroke-width="1.3"/>
<ellipse cx="1615.3" cy="369.8" rx="24.4" ry="17.3" transform="rotate(-20 1615.3 369.8)" fill="#000" stroke="#9A9A9A" stroke-width="1.3"/>
<ellipse cx="1574.0" cy="398.5" rx="24.0" ry="17.3" transform="rotate(-20 1574.0 398.5)" fill="#000" stroke="#9A9A9A" stroke-width="1.3"/>
<ellipse cx="1531.7" cy="406.7" rx="17.6" ry="16.8" transform="rotate(0 1531.7 406.7)" fill="#000" stroke="#9A9A9A" stroke-width="1.3"/>
<ellipse cx="1493.4" cy="412.9" rx="17.6" ry="13.0" transform="rotate(20 1493.4 412.9)" fill="#000" stroke="#9A9A9A" stroke-width="1.3"/>
<ellipse cx="1457.0" cy="398.4" rx="17.4" ry="14.2" transform="rotate(22 1457.0 398.4)" fill="#000" stroke="#9A9A9A" stroke-width="1.3"/>
<ellipse cx="1426.3" cy="372.2" rx="22.5" ry="18.0" transform="rotate(50 1426.3 372.2)" fill="#000" stroke="#9A9A9A" stroke-width="1.3"/>
<ellipse cx="1440.6" cy="334.7" rx="19.1" ry="14.7" transform="rotate(5 1440.6 334.7)" fill="#000" stroke="#9A9A9A" stroke-width="1.3"/>
</g>
<path d="M1387.9,202.4 Q1519.8,275 1651.6,202.4 L1761.8,391 Q1519.8,525 1279.3,391 Z" fill="none" stroke="#2a2a2a" stroke-width="1.4"/>
<rect x="1274" y="194.7" width="8.6" height="132" fill="url(#bar)"/>
<rect x="1292" y="194.3" width="11.0" height="2.3" fill="#e8e8e8"/>
<rect x="1292" y="216.7" width="3.4" height="2.3" fill="#e8e8e8"/>
<rect x="1292" y="239.1" width="3.4" height="2.3" fill="#e8e8e8"/>
<rect x="1292" y="261.5" width="3.4" height="2.3" fill="#e8e8e8"/>
<rect x="1292" y="283.9" width="3.4" height="2.3" fill="#e8e8e8"/>
<rect x="1292" y="306.2" width="3.4" height="2.3" fill="#e8e8e8"/>
<rect x="1292" y="328.6" width="11.0" height="2.3" fill="#e8e8e8"/>
<rect x="1292" y="351.0" width="3.4" height="2.3" fill="#e8e8e8"/>
<rect x="1292" y="373.4" width="3.4" height="2.3" fill="#e8e8e8"/>
<rect x="1292" y="395.7" width="3.4" height="2.3" fill="#e8e8e8"/>
<rect x="1292" y="418.1" width="3.4" height="2.3" fill="#e8e8e8"/>
<rect x="1292" y="440.5" width="3.4" height="2.3" fill="#e8e8e8"/>
<rect x="1292" y="462.9" width="11.0" height="2.3" fill="#e8e8e8"/>
<path d="M1318,325.5 L1325.5,329.5 L1318,333.5 Z" fill="#fff"/>
<text x="599.45" y="649.7" font-size="71" text-anchor="middle" textLength="386.5" lengthAdjust="spacingAndGlyphs">Polyzystische</text>
<text x="598.9" y="731.8" font-size="71" text-anchor="middle" textLength="297.2" lengthAdjust="spacingAndGlyphs">Eierstöcke</text>
<text x="1513.9" y="667.4" font-size="71" text-anchor="middle" textLength="428.8" lengthAdjust="spacingAndGlyphs">Ultraschall der</text>
<text x="1515" y="748.2" font-size="71" text-anchor="middle" textLength="669.5" lengthAdjust="spacingAndGlyphs">polyzystischen Ovarien</text>

</svg>
</body></html>
